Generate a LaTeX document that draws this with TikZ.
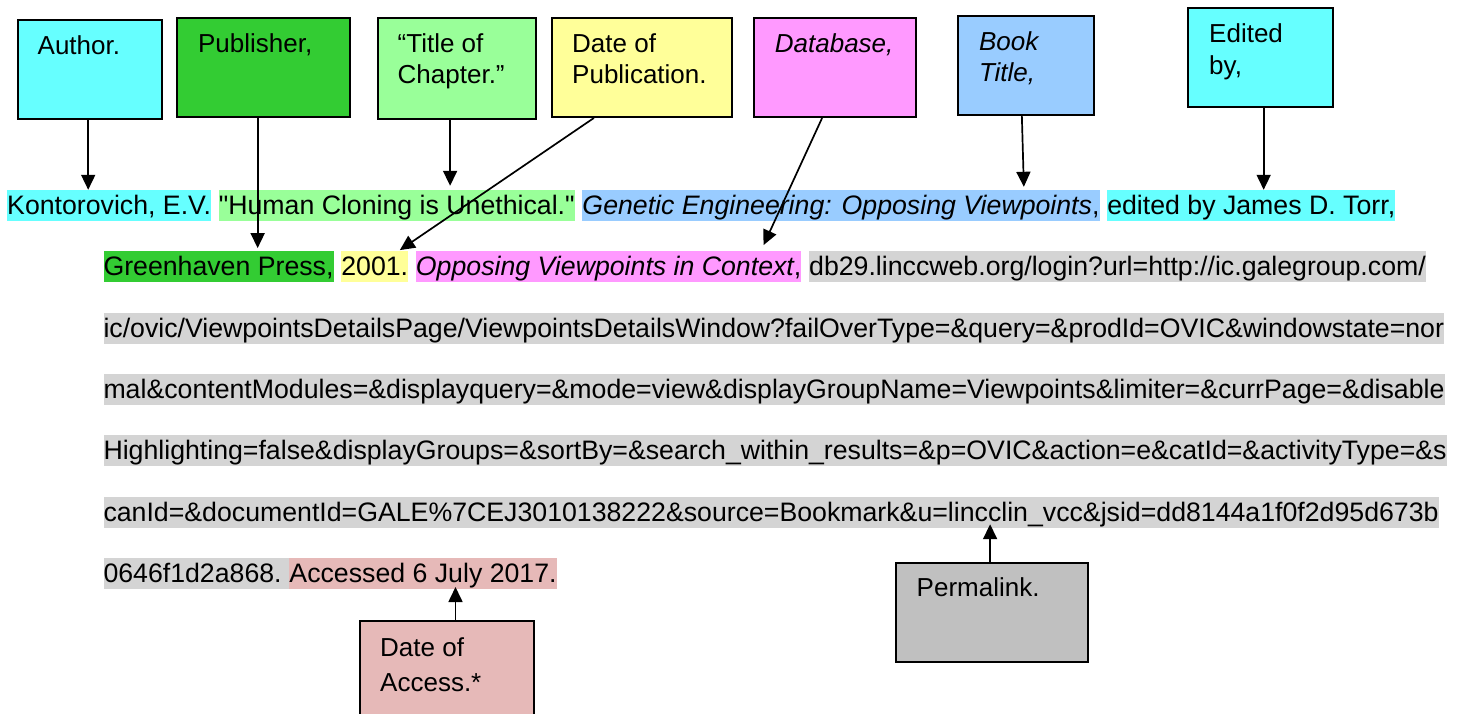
\documentclass[tikz,border=0pt]{standalone}
\usepackage{fontspec}
\setmainfont{Liberation Sans}[Ligatures=TeXOff]
\usetikzlibrary{arrows.meta}
\definecolor{hcyan}{HTML}{66FFFF}
\definecolor{hpub}{HTML}{33CC33}
\definecolor{hltgreen}{HTML}{99FF99}
\definecolor{hyellow}{HTML}{FFFF99}
\definecolor{hmagenta}{HTML}{FF99FF}
\definecolor{hblue}{HTML}{99CCFF}
\definecolor{hgray}{HTML}{D4D4D4}
\definecolor{boxgray}{HTML}{C0C0C0}
\definecolor{hpink}{HTML}{E6B9B8}
\newcommand{\bodyfont}{\fontsize{26.7pt}{31pt}\selectfont}
\newcommand{\boxfont}{\fontsize{26pt}{31pt}\selectfont}
\begin{document}
\begin{tikzpicture}[x=1pt,y=-1pt,
  cbox/.style={draw=black, line width=2pt, rectangle, anchor=north west, inner sep=0pt},
  btxt/.style={anchor=base west, inner sep=0pt, font=\boxfont},
  hl/.style={anchor=base west, inner xsep=0pt, inner ysep=0pt, text height=24.5pt, text depth=6.5pt, font=\bodyfont},
  arr/.style={draw=black, line width=1.7pt, -{Triangle[length=15pt,width=14pt]}}]
\useasboundingbox (0,0) rectangle (1463,713);

% ---------- top boxes ----------
\node[cbox, fill=hcyan, minimum width=144.4pt, minimum height=98.4pt] (author) at (17,19.3) {};
\node[btxt] (authorT) at ([xshift=20.5pt,yshift=-35.5pt]author.north west) {Author.};

\node[cbox, fill=hpub, minimum width=172.5pt, minimum height=99.3pt] (pub) at (176.4,16.7) {};
\node[btxt] (pubT) at ([xshift=21.5pt,yshift=-36pt]pub.north west) {Publisher,};

\node[cbox, fill=hltgreen, minimum width=158.6pt, minimum height=100.4pt] (title) at (376.8,17.3) {};
\node[btxt] (titleA) at ([xshift=20.7pt,yshift=-35.5pt]title.north west) {“Title of};
\node[btxt] (titleB) at ([xshift=20.7pt,yshift=-66.3pt]title.north west) {Chapter.”};

\node[cbox, fill=hyellow, minimum width=180.3pt, minimum height=98.7pt] (date) at (550.7,17.3) {};
\node[btxt] (dateA) at ([xshift=21.3pt,yshift=-35.5pt]date.north west) {Date of};
\node[btxt] (dateB) at ([xshift=21.3pt,yshift=-66.3pt]date.north west) {Publication.};

\node[cbox, fill=hmagenta, minimum width=161.8pt, minimum height=98.7pt] (db) at (753.2,17.3) {};
\node[btxt] (dbT) at ([xshift=21.5pt,yshift=-35.5pt]db.north west) {\itshape Database,};

\node[cbox, fill=hblue, minimum width=136.1pt, minimum height=98.7pt] (book) at (956.8,15) {};
\node[btxt] (bookA) at ([xshift=22pt,yshift=-35.5pt]book.north west) {\itshape Book};
\node[btxt] (bookB) at ([xshift=22pt,yshift=-66.3pt]book.north west) {\itshape Title,};

\node[cbox, fill=hcyan, minimum width=144.7pt, minimum height=98.7pt] (edited) at (1187.3,7.3) {};
\node[btxt] (editedA) at ([xshift=21.7pt,yshift=-35.5pt]edited.north west) {Edited};
\node[btxt] (editedB) at ([xshift=21.7pt,yshift=-66.8pt]edited.north west) {by,};

% ---------- bottom boxes ----------
\node[cbox, fill=boxgray, minimum width=192.2pt, minimum height=99pt] (perma) at (894.5,561.7) {};
\node[btxt] (permaT) at ([xshift=22pt,yshift=-35pt]perma.north west) {Permalink.};

\node[cbox, fill=hpink, minimum width=174.6pt, minimum height=96pt] (access) at (358.7,620) {};
\node[btxt] (accessA) at ([xshift=21.3pt,yshift=-36.7pt]access.north west) {Date of};
\node[btxt] (accessB) at ([xshift=21.3pt,yshift=-71.7pt]access.north west) {Access.*};

% ---------- citation text ----------
% line 1
\node[hl, fill=hcyan] (kont) at (7,214.5) {Kontorovich, E.V.};
\node[hl, fill=hltgreen] (human) at ([xshift=7.4pt]kont.base east) {"Human Cloning is Unethical."};
\node[hl, fill=hblue] (genetic) at ([xshift=7.4pt]human.base east) {\itshape Genetic Engineering: Opposing Viewpoints\upshape,};
\node[hl, fill=hcyan] (torr) at ([xshift=7.4pt]genetic.base east) {edited by James D. Torr,};
% line 2
\node[hl, fill=hpub] (green) at (103.3,275.8) {Greenhaven Press,};
\node[hl, fill=hyellow] (year) at ([xshift=7.4pt]green.base east) {2001.};
\node[hl, fill=hmagenta] (ovic) at ([xshift=7.4pt]year.base east) {\itshape Opposing Viewpoints in Context\upshape,};
\node[hl, fill=hgray] (url1) at ([xshift=7.4pt]ovic.base east) {db29.linccweb.org/login?url=http://ic.galegroup.com/};
% lines 3-6
\node[hl, fill=hgray] (url2) at (103.3,337.1) {ic/ovic/ViewpointsDetailsPage/ViewpointsDetailsWindow?failOverType=\&query=\&prodId=OVIC\&windowstate=nor};
\node[hl, fill=hgray] (url3) at (103.3,398.4) {mal\&contentModules=\&displayquery=\&mode=view\&displayGroupName=Viewpoints\&limiter=\&currPage=\&disable};
\node[hl, fill=hgray] (url4) at (103.3,459.7) {Highlighting=false\&displayGroups=\&sortBy=\&search\_within\_results=\&p=OVIC\&action=e\&catId=\&activityType=\&s};
\node[hl, fill=hgray] (url5) at (103.3,521.0) {canId=\&documentId=GALE\%7CEJ3010138222\&source=Bookmark\&u=lincclin\_vcc\&jsid=dd8144a1f0f2d95d673b};
% line 7
\node[hl, fill=hgray] (url6) at (103.3,582.3) {0646f1d2a868.\kern7.4pt};
\node[hl, fill=hpink] (accessed) at (url6.base east) {Accessed 6 July 2017.};

% ---------- connectors ----------
\draw[arr] ([xshift=-2pt]author.south) -- ([xshift=-2pt]author.south |- kont.north);
\draw[arr] ([xshift=-6pt]pub.south) -- ([xshift=-6pt,yshift=3pt]pub.south |- green.north);
\draw[arr] ([xshift=-7pt]title.south) -- ([xshift=-7pt,yshift=4pt]title.south |- human.north);
\draw[arr] ([xshift=-48pt]date.south) -- ([xshift=-8.5pt,yshift=1pt]year.north east);
\draw[arr] ([xshift=-13pt]db.south) -- ([xshift=-38pt,yshift=6pt]ovic.north east);
\draw[arr] ([xshift=-4pt]book.south) -- ([xshift=-2pt,yshift=3pt]book.south |- genetic.north);
\draw[arr] ([xshift=3pt]edited.south) -- ([xshift=3pt]edited.south |- torr.north);
\draw[arr] ([xshift=-1.5pt]perma.north) -- ([xshift=-1.5pt,yshift=3.5pt]perma.north |- url5.south);
\draw[arr] ([xshift=8.5pt]access.north) -- ([xshift=8.5pt,yshift=2pt]access.north |- accessed.south);
\end{tikzpicture}
\end{document}
